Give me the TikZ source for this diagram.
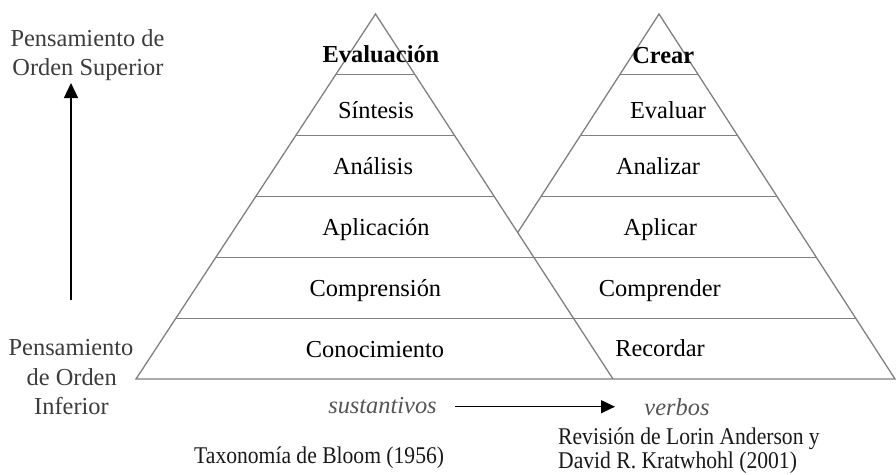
\documentclass[tikz,border=0pt]{standalone}
\usepackage{fontspec}
\setmainfont{Liberation Serif}
\usetikzlibrary{arrows.meta,calc}
\definecolor{pyrgray}{RGB}{128,128,128}
\definecolor{sidegray}{RGB}{60,60,60}
\definecolor{notegray}{RGB}{85,85,85}
\newcommand{\narrowtxt}[1]{\scalebox{0.9}[1]{#1}}
\begin{document}
\begin{tikzpicture}[x=1pt,y=-1pt,
  tier/.style={draw=pyrgray,line width=1.3pt},
  lbl/.style={anchor=base,inner sep=0pt,font=\fontsize{24.4}{29}\selectfont,text=black},
  side/.style={anchor=base,inner sep=0pt,font=\fontsize{24.4}{29}\selectfont,text=sidegray},
  note/.style={anchor=base,inner sep=0pt,font=\fontsize{24.4}{29}\selectfont\itshape,text=notegray},
  captxt/.style={anchor=base west,inner sep=0pt,font=\fontsize{24}{28}\selectfont,text=black!90},
  arr/.style={draw=black,line width=1.2pt}]
\useasboundingbox (0,0) rectangle (896,474);
% pyramid corners
\coordinate (A1) at (375.5,14);
\coordinate (L1) at (136,379);
\coordinate (R1) at (613,379);
\coordinate (A2) at (659,14);
\coordinate (R2) at (895,379);
\coordinate (L2) at (423,379);
\coordinate (X) at (intersection of A1--R1 and A2--L2);
\foreach \k in {1,...,5}{
  \coordinate (a\k) at ($(A1)!\k/6!(L1)$);
  \coordinate (b\k) at ($(A1)!\k/6!(R1)$);
  \coordinate (c\k) at ($(A2)!\k/6!(L2)$);
  \coordinate (d\k) at ($(A2)!\k/6!(R2)$);
}
% outlines
\draw[tier,line join=miter] (R1) -- (A1) -- (L1) -- (R2) -- (A2) -- (X);
\foreach \k in {1,2,3}{
  \draw[tier] (a\k) -- (b\k);
  \draw[tier] (c\k) -- (d\k);
}
\foreach \k in {4,5}{
  \draw[tier] (a\k) -- (d\k);
}
% left pyramid labels
\node[lbl,font=\fontsize{24.4}{29}\selectfont\bfseries] (eva) at (381,62.7) {Evaluación};
\node[lbl] (sin) at (376,118.3) {Síntesis};
\node[lbl] (ana) at (373,174.5) {Análisis};
\node[lbl] (apl) at (376,235.5) {Aplicación};
\node[lbl] (com) at (375.4,296.7) {Comprensión};
\node[lbl] (con) at (375,357.3) {Conocimiento};
% right pyramid labels
\node[lbl,font=\fontsize{24.4}{29}\selectfont\bfseries] (cre) at (663.3,63.3) {Crear};
\node[lbl] (evr) at (668,118.3) {Evaluar};
\node[lbl] (anr) at (658,174.5) {Analizar};
\node[lbl] (apr) at (660.3,235) {Aplicar};
\node[lbl] (cmr) at (659.8,296.7) {Comprender};
\node[lbl] (rec) at (660,356.7) {Recordar};
% side labels
\node[side] (sup1) at (87.5,46.5) {Pensamiento de};
\node[side] (sup2) at (88,75.5) {Orden Superior};
\node[side] (inf1) at (71,355) {Pensamiento};
\node[side] (inf2) at (71.7,385) {de Orden};
\node[side] (inf3) at (71.5,414) {Inferior};
\coordinate (upS) at (71,300);
\coordinate (upT) at (71,83);
\draw[arr,-{Triangle[width=14pt,length=15pt]}] (upS) -- (upT);
% bottom
\node[note] (sus) at (382.5,413.3) {sustantivos};
\node[note] (ver) at (677,415) {verbos};
\coordinate (hS) at (455,406.7);
\coordinate (hT) at (615,406.7);
\draw[arr,-{Triangle[width=13pt,length=14pt]}] (hS) -- (hT);
\node[captxt] (tax) at (194,463) {\narrowtxt{Taxonomía de Bloom (1956)}};
\node[captxt] (rev1) at (558,444) {\narrowtxt{Revisión de Lorin Anderson y}};
\node[captxt] (rev2) at (558,468) {\narrowtxt{David R. Kratwhohl (2001)}};
\end{tikzpicture}
\end{document}
